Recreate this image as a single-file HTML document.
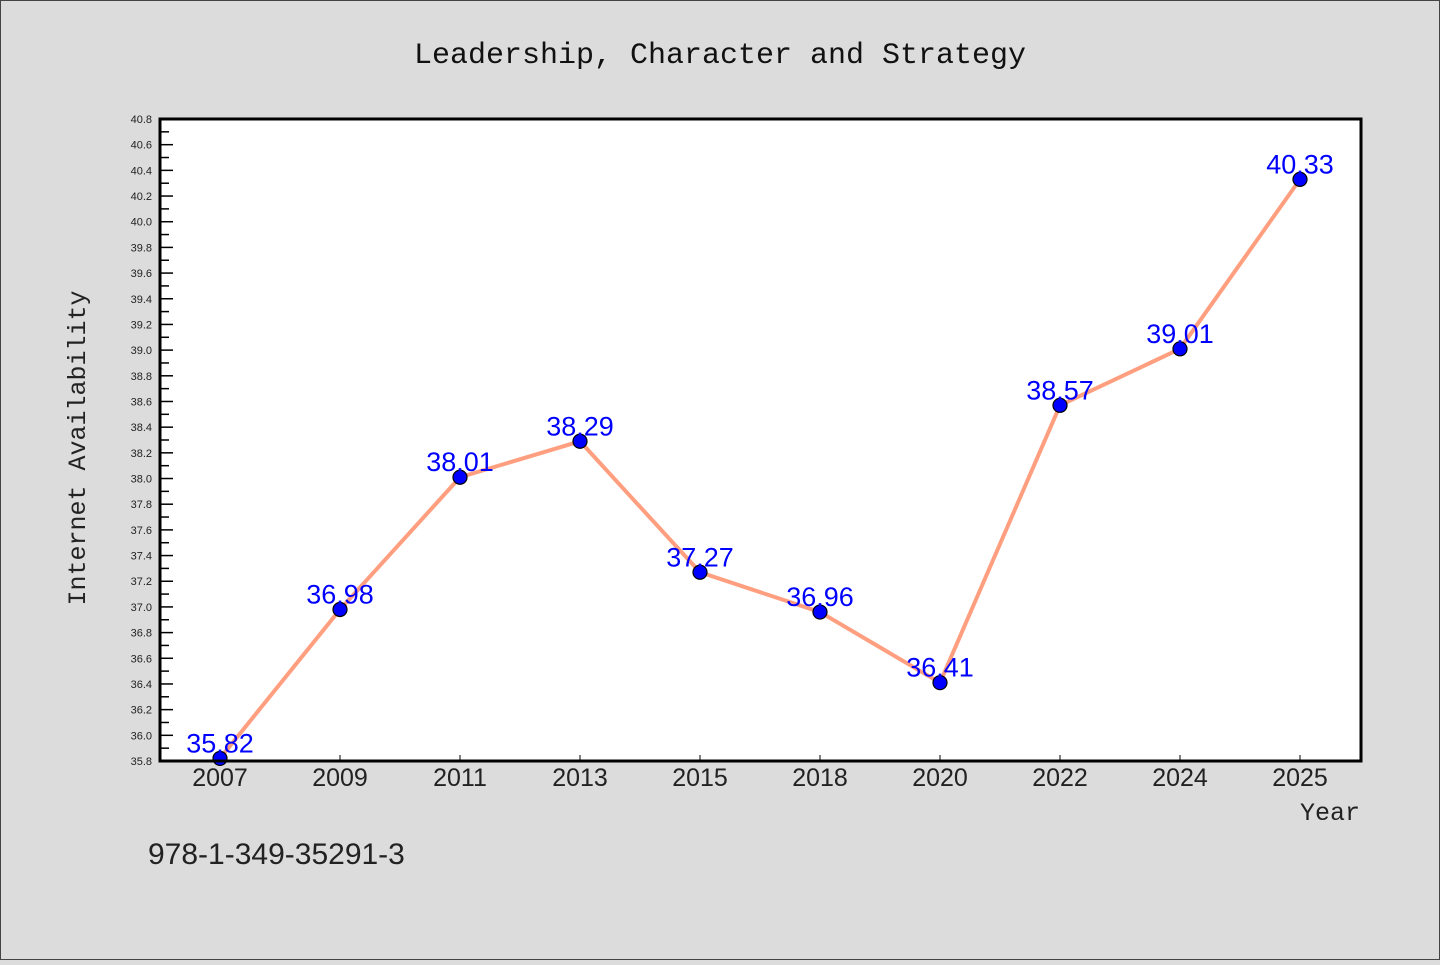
<!DOCTYPE html>
<html><head><meta charset="utf-8"><style>
body{margin:0;background:#dcdcdc;width:1440px;height:960px;overflow:hidden;font-family:"Liberation Sans","DejaVu Sans",sans-serif}
</style></head><body>
<svg width="1440" height="960">
<rect x="0.5" y="0.5" width="1439" height="959" fill="#dcdcdc" stroke="#444"/>
<text x="720" y="63" text-anchor="middle" font-family="Liberation Mono,DejaVu Sans Mono,monospace" font-size="30" fill="#111">Leadership, Character and Strategy</text>
<rect x="160" y="119" width="1201" height="642" fill="#fff"/>
<g id="yticks"></g>
<g id="xticks"></g>
<g id="series"></g>
<rect x="160" y="119" width="1201" height="642" fill="none" stroke="#000" stroke-width="3"/>
<text transform="translate(85,448) rotate(-90)" text-anchor="middle" font-family="Liberation Mono,DejaVu Sans Mono,monospace" font-size="25" fill="#222">Internet Availability</text>
<text x="1360" y="820" text-anchor="end" font-family="Liberation Mono,DejaVu Sans Mono,monospace" font-size="25" fill="#222">Year</text>
<text x="148" y="864" font-size="30" fill="#222">978-1-349-35291-3</text>
</svg>
<script>
const categories=["2007","2009","2011","2013","2015","2018","2020","2022","2024","2025"];
const values=[35.82,36.98,38.01,38.29,37.27,36.96,36.41,38.57,39.01,40.33];
const yMin=35.8,yMax=40.8;
const L=160,R=1361,T=119,B=761;
const NS="http://www.w3.org/2000/svg";
function y(v){return B-(v-yMin)/(yMax-yMin)*(B-T);}
function x(i){return 220+i*120;}
function mk(tag,attrs,parent){const e=document.createElementNS(NS,tag);for(const k in attrs)e.setAttribute(k,attrs[k]);parent.appendChild(e);return e;}
const yt=document.getElementById('yticks'),xt=document.getElementById('xticks'),sg=document.getElementById('series');
for(let k=0;k<=50;k++){
  const v=yMin+k*0.1,yy=y(v),major=k%2===0;
  const t=mk('line',{x1:L,x2:L+(major?13:9),y1:yy,y2:yy,stroke:'#000','stroke-width':1.5},yt);
  
  
  if(major){const tx=mk('text',{x:152,y:yy+4,'text-anchor':'end','font-size':11,fill:'#222'},yt);tx.textContent=v.toFixed(1);
  
  }
}
categories.forEach((c,i)=>{
  const t=mk('line',{x1:x(i),x2:x(i),y1:B,y2:B-6,stroke:'#000','stroke-width':1},xt);
  
  
  const tx=mk('text',{x:x(i),y:786,'text-anchor':'middle','font-size':25,fill:'#222'},xt);tx.textContent=c;
  
  
});
const pl=mk('polyline',{points:values.map((v,i)=>x(i)+','+y(v)).join(' '),fill:'none',stroke:'#ff9f7f','stroke-width':4,'stroke-linejoin':'round'},sg);


values.forEach((v,i)=>{
  const c=mk('circle',{cx:x(i),cy:y(v),r:7,fill:'#0000ff',stroke:'#000','stroke-width':1.2},sg);
  
  
});
values.forEach((v,i)=>{
  const t=mk('text',{x:x(i),y:y(v)-6,'text-anchor':'middle','font-size':27,fill:'#0000ff'},sg);t.textContent=v.toFixed(2);
  
  
});
</script>
</body></html>
